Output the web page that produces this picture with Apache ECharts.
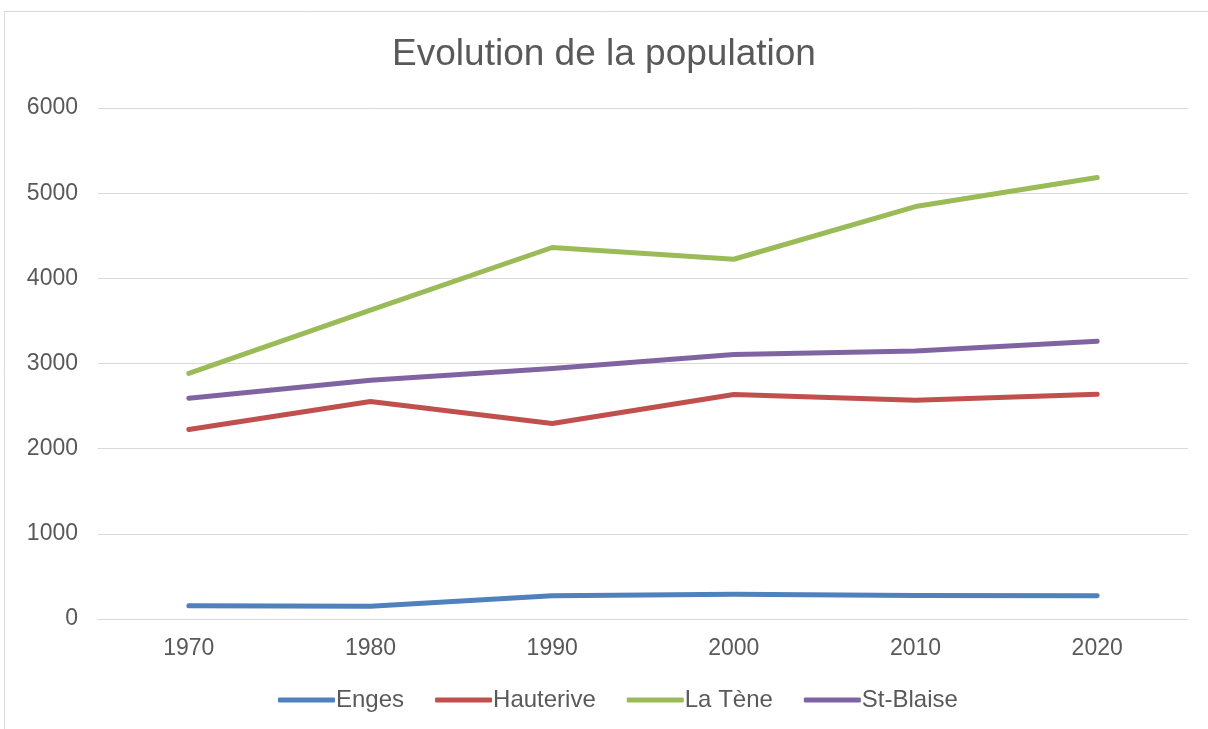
<!DOCTYPE html>
<html>
<head>
<meta charset="utf-8">
<script src="https://cdn.jsdelivr.net/npm/echarts@6/dist/echarts.min.js"></script>
<style>
  html, body { margin: 0; padding: 0; background: #fff; }
  #chart { width: 1208px; height: 729px; }
</style>
</head>
<body>
<div id="chart"></div>
<script>
var years = ['1970', '1980', '1990', '2000', '2010', '2020'];
var enges = [156, 151, 272, 292, 277, 272];
var hauterive = [2225, 2554, 2296, 2636, 2569, 2640];
var laTene = [2883, 3626, 4362, 4224, 4843, 5183];
var stBlaise = [2593, 2804, 2941, 3106, 3148, 3262];

var textColor = '#595959';
var font = 'Liberation Sans, Arial, sans-serif';

function line(name, data, color) {
  return {
    name: name,
    type: 'line',
    data: data,
    symbol: 'none',
    lineStyle: { width: 5, color: color, cap: 'round', join: 'round' },
    itemStyle: { color: color }
  };
}

var chart = echarts.init(document.getElementById('chart'));
var option = {
  backgroundColor: '#ffffff',
  animation: false,
  graphic: [{
    type: 'rect',
    shape: { x: 4.5, y: 11.5, width: 1300, height: 800 },
    style: { fill: 'none', stroke: '#d9d9d9', lineWidth: 1 },
    silent: true
  }],
  title: {
    text: 'Evolution de la population',
    left: 'center',
    top: 31,
    textStyle: { color: textColor, fontSize: 37, fontWeight: 'normal', fontFamily: font }
  },
  legend: {
    bottom: 12,
    left: 273,
    itemWidth: 57,
    itemHeight: 5,
    itemGap: 31,
    icon: 'roundRect',
    textStyle: { color: textColor, fontSize: 24, fontFamily: font, padding: [0, 0, 0, -4] },
    data: ['Enges', 'Hauterive', 'La Tène', 'St-Blaise']
  },
  grid: { left: 98, right: 20, top: 108, bottom: 110 },
  xAxis: {
    type: 'category',
    data: years,
    boundaryGap: true,
    axisLine: { show: true, lineStyle: { color: '#d9d9d9', width: 1 } },
    axisTick: { show: false },
    axisLabel: { color: textColor, fontSize: 23, fontFamily: font, margin: 18 }
  },
  yAxis: {
    type: 'value',
    min: 0,
    max: 6000,
    interval: 1000,
    axisLine: { show: false },
    axisTick: { show: false },
    splitLine: { lineStyle: { color: '#d9d9d9', width: 1 } },
    axisLabel: {
      color: textColor, fontSize: 23, fontFamily: font, margin: 20,
      formatter: function (v) { return String(v); }
    }
  },
  series: [
    line('Enges', enges, '#4f81bd'),
    line('Hauterive', hauterive, '#c0504d'),
    line('La Tène', laTene, '#9bbb59'),
    line('St-Blaise', stBlaise, '#8064a2')
  ]
};
chart.setOption(option);
</script>
</body>
</html>
